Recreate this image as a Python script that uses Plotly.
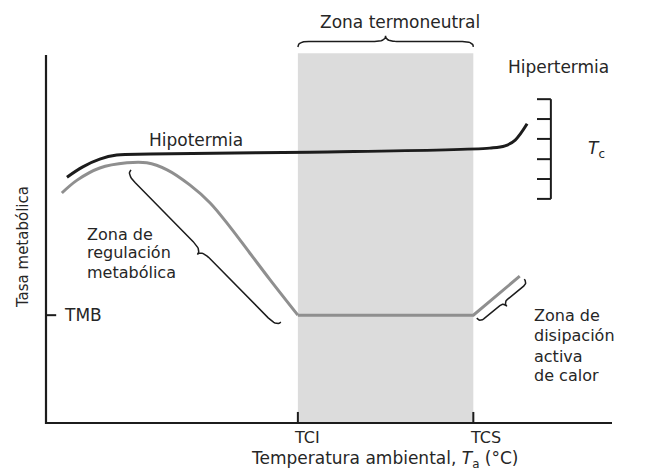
import numpy as np
import plotly.graph_objects as go

# ---------------- data (arbitrary units: x = ambient temperature, y = rate) ----------------
TEMP_REGULATION = [2.8, 5.5, 9.5, 14.3, 17.8, 21.4, 25.4, 29.0, 32.5, 36.0, 39.6, 44.5]
RATE_REGULATION = [62.5, 66.0, 69.3, 70.7, 70.7, 68.8, 64.7, 59.8, 53.3, 46.2, 38.9, 29.3]
TEMP_NEUTRAL_HEAT = [44.5, 75.5, 83.7]
RATE_NEUTRAL_HEAT = [29.3, 29.3, 39.9]
TEMP_BODY = [3.7, 6.5, 9.5, 12.5, 18.4, 46.6, 78.4, 81.1, 82.9, 85.0]
TC_BODY = [66.8, 69.6, 71.7, 72.8, 73.1, 73.6, 74.7, 75.3, 76.9, 81.3]
TCI, TCS = 44.5, 75.5
TMB = 29.3
X_TICK_VALUES = [TCI, TCS]
X_TICK_LABELS = ["TCI", "TCS"]
TC_SCALE_TICKS = [60.9, 66.3, 71.7, 77.2, 82.6, 88.0]

# ---------------- layout geometry ----------------
W, H = 646, 475
X_RANGE = [-8.127, 106.007]
Y_RANGE = [-14.13, 114.95]
SX = W / (X_RANGE[1] - X_RANGE[0])   # px per x unit
SY = H / (Y_RANGE[1] - Y_RANGE[0])   # px per y unit

FONT = "DejaVu Sans"
TXT = "#262626"
INK = "#1c1c1c"
GRAY = "#8f8f8f"


def brace(p0, p1, depth_px, side):
    """curly brace from p0 to p1 (data units), nub on given side"""
    a = np.array([p0[0] * SX, p0[1] * SY])
    b = np.array([p1[0] * SX, p1[1] * SY])
    L = np.linalg.norm(b - a)
    t = (b - a) / L
    n = np.array([-t[1], t[0]]) * side
    d = depth_px
    q = min(d, L * 0.08)
    s = np.linspace(0, 1, 12)

    def quad(P0, C, P1):
        return [((1 - k) ** 2) * np.array(P0) + 2 * (1 - k) * k * np.array(C) + (k ** 2) * np.array(P1) for k in s]

    pts = []
    pts += quad((0, 0), (0, d / 2), (q, d / 2))
    pts += quad((L / 2 - q, d / 2), (L / 2, d / 2), (L / 2, d))
    pts += quad((L / 2, d), (L / 2, d / 2), (L / 2 + q, d / 2))
    pts += quad((L - q, d / 2), (L, d / 2), (L, 0))
    xs, ys = [], []
    for u, v in pts:
        P = a + u * t + v * n
        xs.append(P[0] / SX)
        ys.append(P[1] / SY)
    return xs, ys


fig = go.Figure()

# shaded thermoneutral zone
fig.add_shape(type="rect", x0=TCI, x1=TCS, y0=0, y1=100.5, xref="x", yref="y",
              fillcolor="#dcdcdc", line=dict(width=0), layer="below")

# axes (drawn as an L)
fig.add_trace(go.Scatter(x=[0, 0, 100], y=[100, 0, 0], mode="lines",
                         line=dict(color=INK, width=2.2), hoverinfo="skip", showlegend=False))
# tick marks on x axis and TMB tick
tx, ty = [], []
for v in X_TICK_VALUES:
    tx += [v, v, None]
    ty += [0, 3.0, None]
tx += [0, 1.8, None]
ty += [TMB, TMB, None]
fig.add_trace(go.Scatter(x=tx, y=ty, mode="lines", line=dict(color=INK, width=2),
                         hoverinfo="skip", showlegend=False))

# metabolic rate curve (gray)
fig.add_trace(go.Scatter(x=TEMP_REGULATION, y=RATE_REGULATION, mode="lines",
                         line=dict(color=GRAY, width=3, shape="spline", smoothing=1.0),
                         hoverinfo="skip", showlegend=False))
fig.add_trace(go.Scatter(x=TEMP_NEUTRAL_HEAT, y=RATE_NEUTRAL_HEAT, mode="lines",
                         line=dict(color=GRAY, width=3),
                         hoverinfo="skip", showlegend=False))

# body temperature curve (black)
fig.add_trace(go.Scatter(x=TEMP_BODY, y=TC_BODY, mode="lines",
                         line=dict(color=INK, width=3, shape="spline", smoothing=1.0),
                         hoverinfo="skip", showlegend=False))

# Tc scale
SCALE_X = 89.2
SCALE_TICK_X = 86.75
sx_, sy_ = [SCALE_X, SCALE_X, None], [TC_SCALE_TICKS[0], TC_SCALE_TICKS[-1], None]
for v in TC_SCALE_TICKS:
    sx_ += [SCALE_TICK_X, SCALE_X, None]
    sy_ += [v, v, None]
fig.add_trace(go.Scatter(x=sx_, y=sy_, mode="lines", line=dict(color=INK, width=2),
                         hoverinfo="skip", showlegend=False))

# braces
for (p0, p1, d, side) in [
    ((TCI, 102.2), (TCS, 102.2), 11, 1),
    ((15.0, 68.8), (41.5, 27.4), 12, -1),
    ((76.1, 28.5), (84.5, 39.1), 10, -1),
]:
    bx, by = brace(p0, p1, d, side)
    fig.add_trace(go.Scatter(x=bx, y=by, mode="lines", line=dict(color=INK, width=1.5),
                             hoverinfo="skip", showlegend=False))


def label(text, x, y, size=16, xanchor="center", angle=0):
    fig.add_annotation(text=text, x=x, y=y, xref="x", yref="y", showarrow=False,
                       xanchor=xanchor, yanchor="middle", textangle=angle,
                       font=dict(family=FONT, size=size, color=TXT))


label("Zona termoneutral", 62.5, 109.0, size=17)
label("Hipertermia", 90.5, 96.7, size=17)
label("Hipotermia", 26.5, 76.9, size=17)
label("<i>T</i><sub>c</sub>", 97.3, 74.2, size=17)
for txt, yy in [("Zona de", 51.1), ("regulación", 46.2), ("metabólica", 41.0)]:
    label(txt, 6.9, yy, xanchor="left")
label("TMB", 2.8, TMB, size=17, xanchor="left")
for txt, yy in [("Zona de", 29.3), ("disipación", 23.9), ("activa", 18.2), ("de calor", 13.0)]:
    label(txt, 85.9, yy, xanchor="left")
for v, txt in zip(X_TICK_VALUES, X_TICK_LABELS):
    label(txt, v - 1.0, -3.9, size=16, xanchor="left")
label("Temperatura ambiental, <i>T</i><sub>a</sub> (°C)", 59.9, -10.0, size=17)
label("Tasa metabólica", -4.06, 47.8, size=15, angle=-90)

fig.update_layout(
    width=W, height=H, autosize=False,
    margin=dict(l=0, r=0, t=0, b=0, pad=0),
    paper_bgcolor="#ffffff", plot_bgcolor="#ffffff",
    xaxis=dict(range=X_RANGE, visible=False, fixedrange=True),
    yaxis=dict(range=Y_RANGE, visible=False, fixedrange=True),
    showlegend=False,
)

fig.write_html("out.html", config={"displayModeBar": False},
               post_script="document.body.style.margin='0';document.body.style.overflow='hidden';")
